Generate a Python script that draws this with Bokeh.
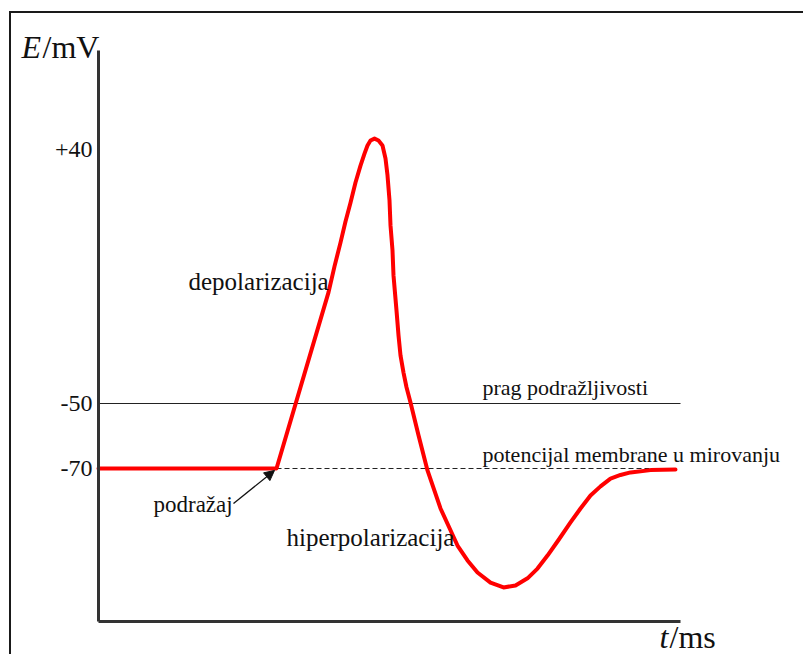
from bokeh.plotting import figure
from bokeh.models import Range1d, FixedTicker, Label, Arrow, NormalHead, LinearAxis
from bokeh.embed import file_html
from bokeh.resources import INLINE

# membrane potential curve (schematic units: t in arbitrary ms, E in mV-like schematic scale)
t_curve = [0, 17.8, 23.0, 23.6, 24.2, 24.7, 25.2, 25.7, 26.2, 26.6, 26.9, 27.2, 27.6, 28.0,
           28.4, 28.7, 28.9, 29.1, 29.2, 29.4, 29.5, 29.65, 29.8, 30.0, 30.2, 30.5, 30.8,
           31.2, 32.0, 32.9, 34.2, 35.9, 36.9, 37.9, 39.2, 40.5, 41.7, 42.9, 43.9, 44.9,
           46.0, 47.2, 48.2, 49.2, 50.2, 51.2, 52.2, 53.2, 55.2, 57.7]
E_curve = [-70, -70, -15.8, -7.8, -0.5, 6.0, 11.8, 18.0, 23.2, 26.9, 29.4, 30.9, 31.5, 30.9,
           29.4, 25.4, 20.2, 12.5, 4.8, -2.9, -10.6, -16.0, -21.4, -29.0, -35.2, -40.5, -45.0,
           -49.7, -59.8, -70.6, -82.3, -93.7, -98.3, -102.0, -105.1, -106.6, -106.0, -103.8,
           -100.8, -96.8, -92.0, -86.6, -82.3, -78.3, -75.5, -73.1, -72.0, -71.2, -70.5, -70.3]

threshold_E = -50
threshold_t = [0, 58.2]
rest_E = -70
rest_t = [17.8, 57.7]

axis_t = (0, 58.2)
axis_E = (-117.1, 58.6)

tick_pos = [-70, -50, 28.3]
tick_labels = ["-70", "-50", "+40"]

SERIF = "Liberation Serif"

p = figure(width=794, height=643, output_backend="svg", toolbar_location=None,
           x_range=Range1d(-8.7, 70.7), y_range=Range1d(-127.85, 70.0),
           min_border=0, x_axis_location=None, y_axis_location=None,
           margin=(11, 0, 0, 9))
p.styles = {"border-top": "2px solid #1a1a1a", "border-left": "2px solid #1a1a1a"}
p.background_fill_color = "white"
p.border_fill_color = "white"
p.outline_line_color = None
p.grid.visible = False

yax = LinearAxis(fixed_location=axis_t[0], bounds=axis_E, ticker=FixedTicker(ticks=tick_pos),
                 major_label_overrides={k: v for k, v in zip(tick_pos, tick_labels)},
                 major_label_text_font=SERIF, major_label_text_font_size="24px",
                 major_label_text_color="#111", major_label_standoff=6)
xax = LinearAxis(fixed_location=axis_E[0], bounds=axis_t, ticker=FixedTicker(ticks=[]))
for ax in (xax, yax):
    ax.axis_line_width = 3
    ax.axis_line_color = "#333333"
    ax.major_tick_line_color = None
    ax.minor_tick_line_color = None
    ax.major_tick_out = 0
    ax.major_tick_in = 0
p.add_layout(yax, "left")
p.add_layout(xax, "below")

# threshold and resting lines
p.line(threshold_t, [threshold_E] * 2, line_color="#222", line_width=1.2)
p.line(rest_t, [rest_E] * 2, line_color="#222", line_width=1.2, line_dash="5 3")

# action potential
p.line(t_curve, E_curve, line_color="#ff0000", line_width=4, line_join="round", line_cap="round")

# stimulus arrow
p.add_layout(Arrow(x_start=13.5, y_start=-80.8, x_end=17.6, y_end=-70.6,
                   line_color="#111", line_width=1.3,
                   end=NormalHead(size=10, fill_color="#111", line_color="#111")))

def lab(x, y, text, size, style="normal"):
    p.add_layout(Label(x=x, y=y, text=text, text_font=SERIF, text_font_size=size,
                       text_font_style=style, text_color="#111", text_baseline="alphabetic"))

lab(9.0, -12.4, "depolarizacija", "25px")
lab(18.8, -91.2, "hiperpolarizacija", "25px")
lab(5.5, -81.2, "podražaj", "23px")
lab(38.4, -45.0, "prag podražljivosti", "22px")
lab(38.4, -65.6, "potencijal membrane u mirovanju", "22px")
lab(-7.7, 59.7, "E", "32px", "italic")
lab(-5.6, 59.7, "/mV", "32px")
lab(56.1, -121.8, "t", "32px", "italic")
lab(57.1, -121.8, "/ms", "32px")

open("out.html", "w").write(file_html(p, INLINE))
